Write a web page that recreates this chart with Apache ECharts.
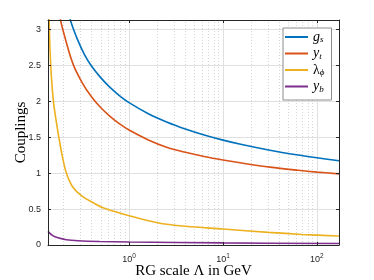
<!DOCTYPE html>
<html><head><meta charset="utf-8">
<script src="https://cdn.jsdelivr.net/npm/echarts@6.0.0/dist/echarts.min.js"></script>
<style>html,body{margin:0;padding:0;background:#fff}#c{width:374px;height:280px}</style>
</head><body><div id="c"></div>
<script>
// RG scale Λ (GeV) and coupling values
const gsScale  = [0.1995, 0.237, 0.282, 0.335, 0.398, 0.501, 0.631, 0.794, 1.0, 1.585, 2.51, 3.98, 6.31, 10, 15.85, 31.6, 63.1, 100, 172];
const gsVals   = [3.50, 3.13, 2.86, 2.65, 2.49, 2.325, 2.19, 2.076, 1.98, 1.83, 1.712, 1.614, 1.53, 1.459, 1.398, 1.319, 1.252, 1.213, 1.171];

const ytScale  = [0.1738, 0.1862, 0.1995, 0.251, 0.316, 0.398, 0.501, 0.631, 0.794, 1.0, 1.585, 2.51, 3.98, 6.31, 10, 15.85, 31.6, 63.1, 100, 172];
const ytVals   = [3.33, 3.13, 2.97, 2.53, 2.26, 2.063, 1.91, 1.787, 1.685, 1.599, 1.465, 1.36, 1.29, 1.232, 1.183, 1.14, 1.083, 1.039, 1.014, 0.99];

const lamScale = [0.1407, 0.144, 0.1496, 0.157, 0.165, 0.179, 0.195, 0.215, 0.249, 0.318, 0.434, 0.528, 1.0, 2.0, 4.0, 10, 30.4, 69.2, 172];
const lamVals  = [3.16, 2.71, 2.30, 1.98, 1.78, 1.495, 1.23, 1.0, 0.814, 0.675, 0.574, 0.518, 0.407, 0.31, 0.26, 0.222, 0.175, 0.147, 0.125];

const ybScale  = [0.137, 0.154, 0.175, 0.215, 0.286, 0.487, 1.0, 10, 172];
const ybVals   = [0.19, 0.13, 0.10, 0.074, 0.06, 0.049, 0.042, 0.029, 0.021];

const seriesNames = ['g_s', 'y_t', 'lambda_phi', 'y_b'];
const seriesColors = ['#0072BD', '#D95319', '#EDB120', '#7E2F8E'];
const xMin = 0.137, xMax = 172;
const yMin = 0, yMax = 3.13, yStep = 0.5;
const xMajorTicks = [1, 10, 100];
const xMinorTicks = [0.2,0.3,0.4,0.5,0.6,0.7,0.8,0.9, 2,3,4,5,6,7,8,9, 20,30,40,50,60,70,80,90];
const yTicks = [0, 0.5, 1, 1.5, 2, 2.5, 3];

function pairs(xs, ys) { return xs.map((x, i) => [x, ys[i]]); }
const allData = [pairs(gsScale, gsVals), pairs(ytScale, ytVals), pairs(lamScale, lamVals), pairs(ybScale, ybVals)];

const legendLabels = {
  'g_s': '{i|g}{sub|s}',
  'y_t': '{i|y}{sub|t}',
  'lambda_phi': '{n|λ}{sub|ϕ}',
  'y_b': '{i|y}{sub|b}'
};

const axisColor = '#262626';
const tickFont = 'Liberation Sans, Arial, sans-serif';
const serif = 'Liberation Serif, DejaVu Serif, serif';

function xLabel(v) {
  const e = Math.log10(v);
  if (Math.abs(e - Math.round(e)) > 1e-6) return '';
  return '{b|10}{s|' + Math.round(e) + '}';
}

const chart = echarts.init(document.getElementById('c'), null, {renderer: 'canvas'});
const series = [];
series.push({
  name: 'minorGrid', type: 'line', data: [], silent: true, z: 1,
  markLine: {
    silent: true, symbol: ['none', 'none'], label: {show: false}, animation: false,
    lineStyle: {color: '#d6d6d6', type: [1, 2], width: 1},
    data: xMinorTicks.map(v => ({xAxis: v}))
  }
});
series.push({
  name: 'majorGrid', type: 'line', data: [], silent: true, z: 1,
  markLine: {
    silent: true, symbol: ['none', 'none'], label: {show: false}, animation: false,
    lineStyle: {color: '#e0e0e0', type: 'solid', width: 1},
    data: xMajorTicks.map(v => ({xAxis: v})).concat(yTicks.slice(1).map(v => ({yAxis: v})))
  }
});
allData.forEach((d, i) => series.push({
  name: seriesNames[i], type: 'line', data: d, smooth: 0.35,
  showSymbol: false, symbol: 'none', z: 5,
  lineStyle: {color: seriesColors[i], width: 1.6}, itemStyle: {color: seriesColors[i]}
}));

chart.setOption({
  animation: false,
  backgroundColor: '#fff',
  grid: {left: 48, right: 35, top: 20, bottom: 35, containLabel: false, outerBoundsMode: 'none'},
  graphic: [{
    type: 'rect', left: 282.5, top: 27.5, z: 15, silent: true,
    shape: {width: 48.5, height: 72},
    style: {fill: '#fff', stroke: '#8c8c8c', lineWidth: 1}
  }],
  legend: {
    data: seriesNames, orient: 'vertical', left: 283, top: 28, z: 20,
    padding: [2, 2, 2, 2], itemGap: 2, itemWidth: 23, itemHeight: 2, icon: 'rect',
    backgroundColor: 'transparent', borderWidth: 0,
    formatter: n => legendLabels[n],
    textStyle: {
      rich: {
        i: {fontFamily: serif, fontStyle: 'italic', fontSize: 14, color: '#000'},
        n: {fontFamily: serif, fontSize: 14, color: '#000'},
        sub: {fontFamily: serif, fontStyle: 'italic', fontSize: 9, color: '#000', padding: [6, 0, 0, 0]}
      }
    }
  },
  xAxis: [{
    type: 'log', logBase: 10, min: xMin, max: xMax, position: 'bottom', z: 10,
    name: 'RG scale Λ in GeV', nameLocation: 'middle', nameGap: 19, nameMoveOverlap: false,
    nameTextStyle: {fontFamily: serif, fontSize: 15, color: '#000'},
    axisLine: {show: true, onZero: false, lineStyle: {color: axisColor, width: 1}},
    axisTick: {show: true, inside: true, length: 3, lineStyle: {color: axisColor}},
    axisLabel: {
      formatter: xLabel, margin: 8, showMinLabel: false, showMaxLabel: false,
      rich: {
        b: {fontFamily: tickFont, fontSize: 9, color: axisColor},
        s: {fontFamily: tickFont, fontSize: 6.5, color: axisColor, padding: [0, 0, 6, 0]}
      }
    },
    splitLine: {show: false}
  }, {
    type: 'log', logBase: 10, min: xMin, max: xMax, position: 'top', z: 10,
    axisLine: {show: true, onZero: false, lineStyle: {color: axisColor, width: 1}},
    axisTick: {show: true, inside: true, length: 3, lineStyle: {color: axisColor}},
    axisLabel: {show: false}, splitLine: {show: false}
  }],
  yAxis: [{
    type: 'value', min: yMin, max: yMax, interval: yStep, position: 'left', z: 10,
    name: 'Couplings', nameLocation: 'middle', nameGap: 19, nameRotate: 90, nameMoveOverlap: false,
    nameTextStyle: {fontFamily: serif, fontSize: 15, color: '#000'},
    axisLine: {show: true, onZero: false, lineStyle: {color: axisColor, width: 1}},
    axisTick: {show: true, inside: true, length: 3, lineStyle: {color: axisColor}},
    axisLabel: {
      fontFamily: tickFont, fontSize: 9, color: axisColor, margin: 7,
      formatter: v => (Math.abs(v * 2 - Math.round(v * 2)) < 1e-6 && v <= 3) ? String(v) : ''
    },
    splitLine: {show: false}
  }, {
    type: 'value', min: yMin, max: yMax, interval: yStep, position: 'right', z: 10,
    axisLine: {show: true, onZero: false, lineStyle: {color: axisColor, width: 1}},
    axisTick: {show: true, inside: true, length: 3, lineStyle: {color: axisColor}},
    axisLabel: {show: false}, splitLine: {show: false}
  }],
  series: series
});
</script>
</body></html>
